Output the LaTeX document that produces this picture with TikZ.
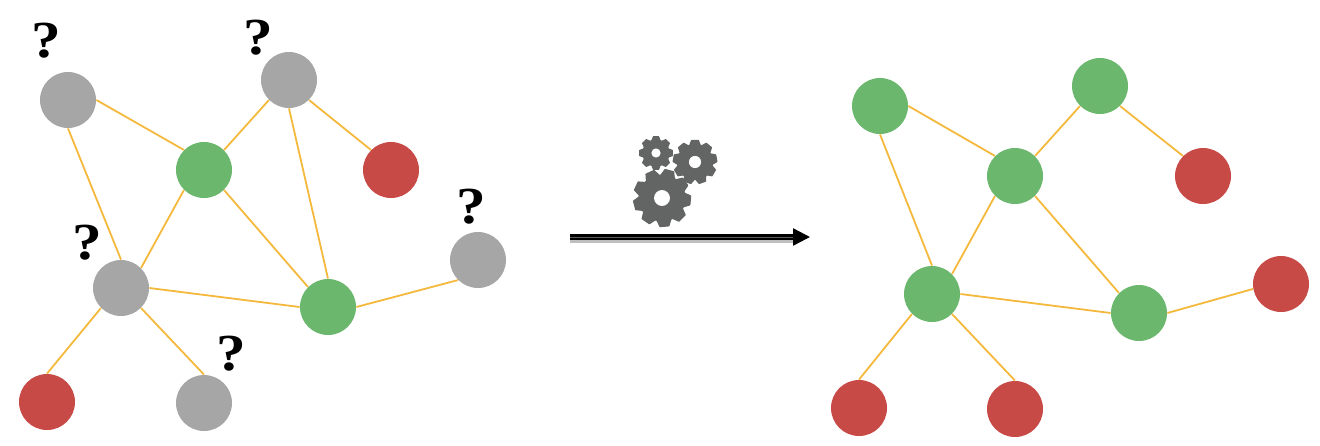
\documentclass[tikz,border=0pt]{standalone}
\usepackage{fontspec}
\newfontfamily\qfont[FakeStretch=1.14]{Liberation Serif}
\usetikzlibrary{arrows.meta}
\definecolor{ngreen}{HTML}{6BB76D}
\definecolor{nred}{HTML}{C74A47}
\definecolor{ngray}{HTML}{A6A6A6}
\definecolor{nedge}{HTML}{F4B93C}
\definecolor{ngear}{HTML}{636564}
\tikzset{
  x=0.5pt,y=-0.5pt,
  netnode/.style={circle,inner sep=0pt,minimum size=28pt,draw=none},
  gn/.style={netnode,fill=ngreen},
  rn/.style={netnode,fill=nred},
  un/.style={netnode,fill=ngray},
  link/.style={draw=nedge,line width=0.9pt},
  qmark/.style={inner sep=0pt,font=\fontsize{26}{26}\selectfont\qfont\bfseries},
}
% #1 centre x, #2 centre y, #3 outer radius, #4 teeth, #5 start angle
\newcommand{\gearshape}[5]{%
  \begin{scope}[shift={(#1,#2)}]
    \fill[ngear] (0,0) circle[radius=#3*0.8];
    \pgfmathsetmacro{\gs}{360/#4}
    \foreach \k in {1,...,#4}{
      \pgfmathsetmacro{\ga}{#5+\k*\gs}
      \filldraw[ngear,line width=0.6pt,line join=round,rotate=\ga]
        (#3*0.7,-#3*0.25) -- (#3*0.96,-#3*0.15) -- (#3*0.96,#3*0.15) -- (#3*0.7,#3*0.25) -- cycle;
    }
    \fill[white] (0,0) circle[radius=#3*0.27];
  \end{scope}
}
\begin{document}
\begin{tikzpicture}
\useasboundingbox (0,0) rectangle (1320,445);
% left network
\node[un] (A) at (68,100) {};
\node[un] (B) at (289,80) {};
\node[gn] (C) at (204,170) {};
\node[rn] (D) at (391,170) {};
\node[un] (E) at (121,288) {};
\node[gn] (F) at (328,307) {};
\node[un] (G) at (478,260) {};
\node[rn] (H) at (47,402) {};
\node[un] (I) at (204,403) {};
\foreach \p/\pa/\q/\qa in {A/0/C/135,A/270/E/90,C/45/B/225,B/315/D/135,B/270/F/90,C/225/E/45,C/315/F/135,E/0/F/180,F/0/G/225,E/225/H/90,E/315/I/90}
  \draw[link] (\p.\pa) -- (\q.\qa);
\node[qmark] (q1) at (46.5,41) {?};
\node[qmark] (q2) at (258.5,37.5) {?};
\node[qmark] (q3) at (87.5,242.5) {?};
\node[qmark] (q4) at (471,206.5) {?};
\node[qmark] (q5) at (231.5,353.5) {?};
% right network
\node[gn] (a) at (880,106) {};
\node[gn] (b) at (1100,86) {};
\node[gn] (c) at (1015,176) {};
\node[rn] (d) at (1203,176) {};
\node[gn] (e) at (932,294) {};
\node[gn] (f) at (1139,313) {};
\node[rn] (g) at (1281,284) {};
\node[rn] (h) at (859,408) {};
\node[rn] (i) at (1015,409) {};
\foreach \p/\pa/\q/\qa in {a/0/c/135,a/270/e/90,c/45/b/225,b/315/d/135,c/225/e/45,c/315/f/135,e/0/f/180,f/0/g/190,e/225/h/90,e/315/i/90}
  \draw[link] (\p.\pa) -- (\q.\qa);
% gears
\gearshape{656}{153}{17}{8}{0}
\gearshape{695}{162}{22.5}{9}{10}
\gearshape{662}{198}{29.5}{9}{-5}
% arrow
\coordinate (s) at (570,237);
\coordinate (t) at (810,237);
\coordinate (s2) at (570,241.5);
\coordinate (t2) at (795,241.5);
\draw[black!25,line width=1.5pt] (s2) -- (t2);
\draw[black,line width=1.2pt,double=black!65,double distance=0.3pt,-{Triangle[length=8.5pt,width=8.5pt]}] (s) -- (t);
\end{tikzpicture}
\end{document}
